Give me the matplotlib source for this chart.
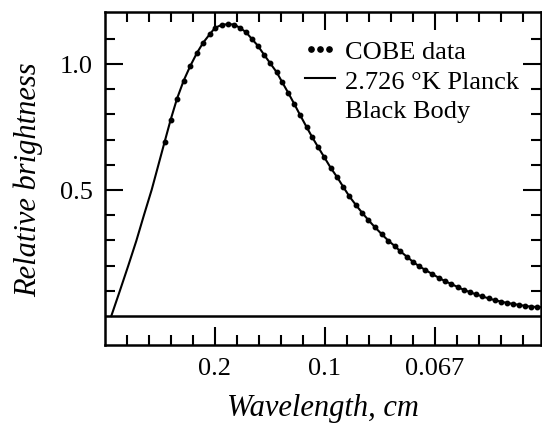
import matplotlib
matplotlib.use("Agg")
import matplotlib.pyplot as plt
from matplotlib.lines import Line2D
from matplotlib.legend_handler import HandlerLine2D

# wavenumber (1/cm) and relative brightness
cobe_x = [2.714, 2.986, 3.273, 3.577, 3.877, 4.182, 4.468, 4.773, 5.0, 5.305,
          5.605, 5.877, 6.136, 6.409, 6.668, 6.941, 7.227, 7.5, 7.805, 8.059,
          8.332, 8.605, 8.864, 9.168, 9.423, 9.695, 9.968, 10.259, 10.559, 10.832,
          11.105, 11.409, 11.695, 11.968, 12.273, 12.577, 12.877, 13.182, 13.423, 13.727,
          14.0, 14.286, 14.559, 14.864, 15.168, 15.441, 15.741, 16.032, 16.305, 16.577,
          16.864, 17.136, 17.441, 17.714, 18.0, 18.273, 18.545, 18.832, 19.105, 19.377,
          19.65]
cobe_y = [0.692, 0.779, 0.862, 0.934, 0.992, 1.044, 1.085, 1.119, 1.143, 1.155,
          1.158, 1.156, 1.143, 1.126, 1.100, 1.073, 1.037, 1.004, 0.967, 0.927,
          0.885, 0.841, 0.798, 0.749, 0.709, 0.669, 0.630, 0.588, 0.550, 0.512,
          0.475, 0.440, 0.409, 0.381, 0.352, 0.325, 0.299, 0.277, 0.257, 0.235,
          0.215, 0.197, 0.183, 0.167, 0.152, 0.139, 0.127, 0.115, 0.104, 0.095,
          0.086, 0.078, 0.070, 0.063, 0.057, 0.052, 0.048, 0.044, 0.040, 0.037,
          0.036]

planck_low_x = [0.286, 0.668, 1.059, 1.423, 1.773, 2.123, 2.377]
planck_low_y = [0.0, 0.098, 0.200, 0.298, 0.401, 0.501, 0.583]
planck_x = planck_low_x + cobe_x + [19.85]
planck_y = planck_low_y + cobe_y + [0.035]

xtick_pos = [5, 10, 15]
xtick_labels = ["0.2", "0.1", "0.067"]
ytick_pos = [0.5, 1.0]
ytick_labels = ["0.5", "1.0"]

plt.rcParams['font.family'] = ['Liberation Serif', 'DejaVu Serif']

fig = plt.figure(figsize=(5.42, 4.27), dpi=100)
ax = fig.add_axes([105/542, 1 - 346/427, 436/542, 333/427])

ax.plot(planck_x, planck_y, color='black', lw=1.5, zorder=2)
ax.plot(cobe_x, cobe_y, linestyle='none', marker='o', ms=3.2, color='black', zorder=3)
ax.axhline(0, color='black', lw=1.8, zorder=1)

ax.set_xlim(0, 19.82)
ax.set_ylim(-0.115, 1.206)

ax.set_xticks(xtick_pos)
ax.set_xticklabels(xtick_labels)
ax.set_xticks([i for i in range(1, 20) if i % 5 != 0], minor=True)
ax.set_yticks(ytick_pos)
ax.set_yticklabels(ytick_labels)
ax.set_yticks([0.1, 0.2, 0.3, 0.4, 0.6, 0.7, 0.8, 0.9, 1.1], minor=True)

ax.tick_params(which='both', direction='in', top=True, right=True, width=1.5,
               labelsize=19, pad=9)
ax.tick_params(which='major', length=13)
ax.tick_params(which='minor', length=7.5)
for s in ax.spines.values():
    s.set_linewidth(1.8)

ax.set_xlabel("Wavelength, cm", fontsize=22, style='italic', labelpad=10)
ax.set_ylabel("Relative brightness", fontsize=22, style='italic', labelpad=12)

h_dots = Line2D([], [], linestyle='none', marker='o', ms=3.8, color='black')
h_line = Line2D([], [], color='black', lw=1.5)
h_none = Line2D([], [], linestyle='none', marker='none')
labels = ["COBE data", "2.726 °K Planck", "Black Body"]
ax.legend([h_dots, h_line, h_none], labels, loc='upper left',
          bbox_to_anchor=(0.459, 0.916),
          handler_map={h_dots: HandlerLine2D(numpoints=3, marker_pad=0.23),
                       h_line: HandlerLine2D(numpoints=1)},
          frameon=False, fontsize=19, handlelength=1.14,
          handletextpad=0.38, borderpad=0, borderaxespad=0, labelspacing=0.22)

fig.savefig("out.png", dpi=100)
